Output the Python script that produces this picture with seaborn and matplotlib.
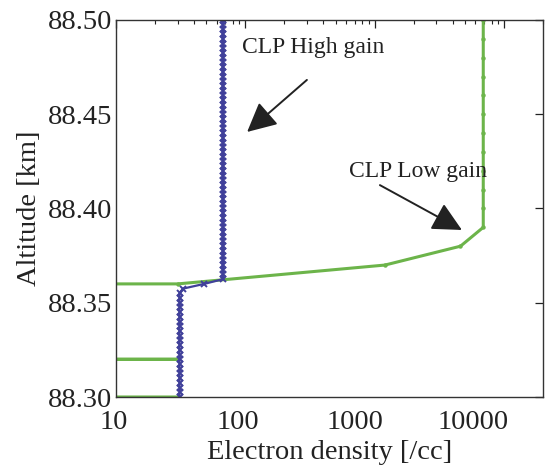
import matplotlib
matplotlib.use("Agg")
import matplotlib.pyplot as plt
import matplotlib.ticker as mticker
import matplotlib.transforms as mtransforms
import seaborn as sns
import pandas as pd

# ---- data ----
low_gain_alt = [88.30, 88.31, 88.32, 88.33, 88.34, 88.35, 88.36, 88.37, 88.38,
                88.39, 88.40, 88.41, 88.42, 88.43, 88.44, 88.45, 88.46, 88.47,
                88.48, 88.49, 88.50]
low_gain_ne = [30, 0, 30, 0, 0, 0, 30, 1200, 4600,
               6900, 6900, 6900, 6900, 6900, 6900, 6900, 6900, 6900,
               6900, 6900, 6900]

high_gain_alt = [
    88.3000, 88.3025, 88.3050, 88.3075, 88.3100, 88.3125, 88.3150, 88.3175,
    88.3200, 88.3225, 88.3250, 88.3275, 88.3300, 88.3325, 88.3350, 88.3375,
    88.3400, 88.3425, 88.3450, 88.3475, 88.3500, 88.3525, 88.3550, 88.3575,
    88.3600, 88.3625, 88.3650, 88.3675, 88.3700, 88.3725, 88.3750, 88.3775,
    88.3800, 88.3825, 88.3850, 88.3875, 88.3900, 88.3925, 88.3950, 88.3975,
    88.4000, 88.4025, 88.4050, 88.4075, 88.4100, 88.4125, 88.4150, 88.4175,
    88.4200, 88.4225, 88.4250, 88.4275, 88.4300, 88.4325, 88.4350, 88.4375,
    88.4400, 88.4425, 88.4450, 88.4475, 88.4500, 88.4525, 88.4550, 88.4575,
    88.4600, 88.4625, 88.4650, 88.4675, 88.4700, 88.4725, 88.4750, 88.4775,
    88.4800, 88.4825, 88.4850, 88.4875, 88.4900, 88.4925, 88.4950, 88.4975,
    88.5000]
high_gain_ne = [
    31, 31, 31, 31, 31, 31, 31, 31,
    31, 31, 31, 31, 31, 31, 31, 31,
    31, 31, 31, 31, 31, 31, 31, 33,
    48, 67, 67, 67, 67, 67, 67, 67,
    67, 67, 67, 67, 67, 67, 67, 67,
    67, 67, 67, 67, 67, 67, 67, 67,
    67, 67, 67, 67, 67, 67, 67, 67,
    67, 67, 67, 67, 67, 67, 67, 67,
    67, 67, 67, 67, 67, 67, 67, 67,
    67, 67, 67, 67, 67, 67, 67, 67,
    67]

x_ticks = [10, 100, 1000, 10000]
x_tick_labels = ["10", "100", "1000", "10000"]
y_ticks = [88.30, 88.35, 88.40, 88.45, 88.50]
y_tick_labels = ["88.30", "88.35", "88.40", "88.45", "88.50"]

sns.set_theme(style="white")
plt.rcParams["font.family"] = ["Liberation Serif", "DejaVu Serif"]

low_df = pd.DataFrame({"ne": low_gain_ne, "alt": low_gain_alt})
high_df = pd.DataFrame({"ne": high_gain_ne, "alt": high_gain_alt})

GREEN = "#6cb44a"
NAVY = "#40409a"

fig = plt.figure(figsize=(5.53, 4.68), dpi=100)
ax = fig.add_axes([0.2098, 0.1517, 0.7722, 0.8056])

sns.lineplot(data=low_df, x="ne", y="alt", ax=ax, sort=False, estimator=None,
             color=GREEN, lw=2.2, marker="o", markersize=3.2,
             markeredgewidth=0, markerfacecolor=GREEN, orient="y")
sns.lineplot(data=high_df, x="ne", y="alt", ax=ax, sort=False, estimator=None,
             color=NAVY, lw=1.6, marker="x", markersize=5,
             markeredgewidth=1.4, markeredgecolor=NAVY, orient="y")

ax.set_xscale("log")
ax.set_xlim(10, 20000)
ax.set_ylim(88.30, 88.50)
ax.set_xticks(x_ticks)
ax.set_xticklabels(x_tick_labels)
ax.xaxis.set_minor_locator(mticker.LogLocator(base=10, subs=range(2, 10)))
ax.xaxis.set_minor_formatter(mticker.NullFormatter())
ax.set_yticks(y_ticks)
ax.set_yticklabels(y_tick_labels)

ax.tick_params(axis="both", which="both", direction="in", top=True,
               right=True, colors="#222222", labelcolor="#222222")
ax.tick_params(axis="both", which="major", length=6, width=0.9,
               labelsize=20.5)
ax.tick_params(axis="x", which="major", pad=9)
ax.tick_params(axis="y", which="major", pad=3)
ax.tick_params(axis="x", which="minor", length=3, width=0.8)
for s in ax.spines.values():
    s.set_color("#333333")
    s.set_linewidth(1.0)

# the reference's x tick labels sit slightly left of their ticks
x_label_shift_px = [-2, -8, -20, -31]
for lab, dx in zip(ax.get_xticklabels(), x_label_shift_px):
    lab.set_transform(lab.get_transform() +
                      mtransforms.ScaledTranslation(dx / 100, 0,
                                                    fig.dpi_scale_trans))

ax.set_xlabel("Electron density [/cc]", fontsize=20.5, color="#222222",
              labelpad=4)
ax.set_ylabel("Altitude [km]", fontsize=20.5, color="#222222", labelpad=4)
ax.grid(False)

ax.text(0.461, 0.928, "CLP High gain", transform=ax.transAxes,
        ha="center", va="center", fontsize=17, color="#222222")
ax.annotate("", xy=(0.307, 0.703), xytext=(0.447, 0.841),
            xycoords="axes fraction", textcoords="axes fraction",
            arrowprops=dict(arrowstyle="-|>,head_length=0.9,head_width=0.45",
                            lw=1.4, color="#222222", mutation_scale=20,
                            shrinkA=0, shrinkB=0))
ax.text(0.707, 0.597, "CLP Low gain", transform=ax.transAxes,
        ha="center", va="center", fontsize=17, color="#222222")
ax.annotate("", xy=(0.810, 0.443), xytext=(0.618, 0.562),
            xycoords="axes fraction", textcoords="axes fraction",
            arrowprops=dict(arrowstyle="-|>,head_length=0.9,head_width=0.45",
                            lw=1.4, color="#222222", mutation_scale=20,
                            shrinkA=0, shrinkB=0))

fig.savefig("out.png", dpi=100)
